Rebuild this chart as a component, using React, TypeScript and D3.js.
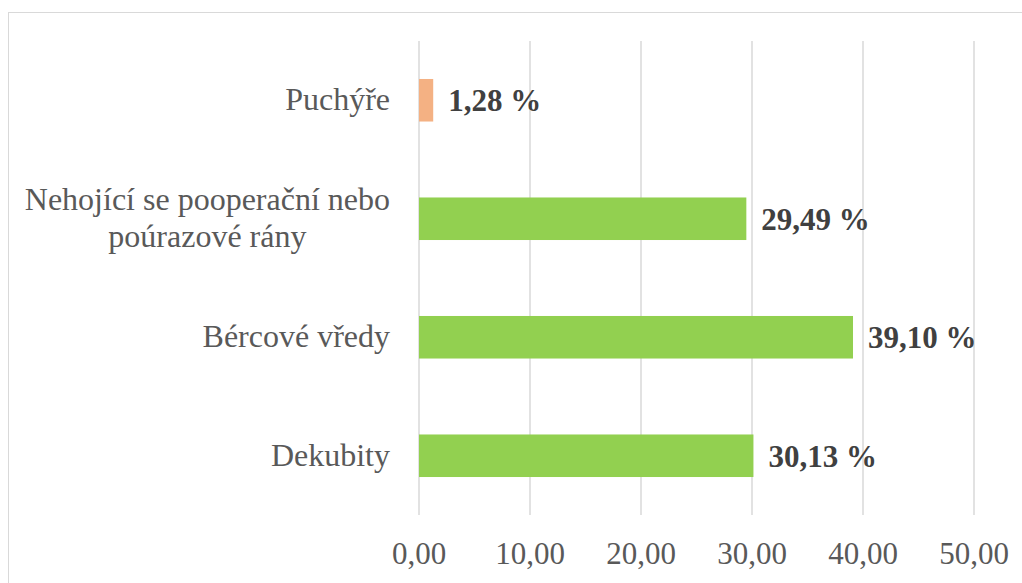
import React, { useEffect, useRef } from 'react';
import * as d3 from 'd3';

// categories listed bottom to top as in the source chart
const categories = ['Dekubity', 'Bércové vředy', 'Nehojící se pooperační nebo poúrazové rány', 'Puchýře'];
const categoryLines = [['Dekubity'], ['Bércové vředy'], ['Nehojící se pooperační nebo', 'poúrazové rány'], ['Puchýře']];
const values = [30.13, 39.1, 29.49, 1.28];
const barColors = ['#92D050', '#92D050', '#92D050', '#F4B183'];
const ticks = [0, 10, 20, 30, 40, 50];

const width = 1022;
const height = 583;
const margin = { top: 41, right: 48, bottom: 68, left: 419 };
const font = '"Liberation Serif", "Times New Roman", serif';

const fmt = (v: number) => v.toFixed(2).replace('.', ',');

const App = () => {
  const ref = useRef<SVGSVGElement>(null);

  useEffect(() => {
    const svg = d3.select(ref.current);
    svg.selectAll('*').remove();

    const x = d3.scaleLinear().domain([0, 50]).range([margin.left, width - margin.right]);
    const y = d3.scaleBand()
      .domain([...categories].reverse())
      .range([margin.top, height - margin.bottom])
      .paddingInner(0.641)
      .paddingOuter(0.3205);

    // outer chart border
    svg.append('rect')
      .attr('x', 8.5).attr('y', 12.5)
      .attr('width', 1100).attr('height', 700)
      .attr('fill', 'none').attr('stroke', '#D9D9D9').attr('stroke-width', 1);

    svg.append('g')
      .selectAll('line')
      .data(ticks)
      .join('line')
      .attr('x1', d => x(d)).attr('x2', d => x(d))
      .attr('y1', margin.top).attr('y2', height - margin.bottom)
      .attr('stroke', '#D9D9D9').attr('stroke-width', 1.5);

    svg.append('g')
      .selectAll('text')
      .data(ticks)
      .join('text')
      .attr('x', d => x(d))
      .attr('y', 564)
      .attr('text-anchor', 'middle')
      .attr('font-family', font).attr('font-size', 31)
      .attr('fill', '#595959')
      .text(d => fmt(d));

    svg.append('g')
      .selectAll('rect')
      .data(values)
      .join('rect')
      .attr('x', x(0))
      .attr('y', (d, i) => y(categories[i]) as number)
      .attr('width', d => x(d) - x(0))
      .attr('height', y.bandwidth())
      .attr('fill', (d, i) => barColors[i]);

    svg.append('g')
      .selectAll('text')
      .data(values)
      .join('text')
      .attr('x', d => x(d) + 15)
      .attr('y', (d, i) => (y(categories[i]) as number) + y.bandwidth() / 2 + 11)
      .attr('font-family', font).attr('font-size', 31).attr('font-weight', 'bold')
      .attr('fill', '#404040')
      .text(d => `${fmt(d)} %`);

    const labels = svg.append('g');
    categories.forEach((c, i) => {
      const lines = categoryLines[i];
      const cy = (y(c) as number) + y.bandwidth() / 2;
      const t = labels.append('text')
        .attr('font-family', font).attr('font-size', 32)
        .attr('fill', '#595959')
        .attr('text-anchor', 'middle');
      lines.forEach((l, j) => {
        t.append('tspan')
          .attr('x', 0)
          .attr('y', cy + 10 + (j - (lines.length - 1) / 2) * 37)
          .text(l);
      });
      const w = (t.node() as SVGTextElement).getBBox().width;
      t.selectAll('tspan').attr('x', 390 - w / 2);
    });
  }, []);

  return (
    <svg ref={ref} width={width} height={height} style={{ position: 'absolute', left: 0, top: 0, background: '#fff' }} />
  );
};

export default App;
